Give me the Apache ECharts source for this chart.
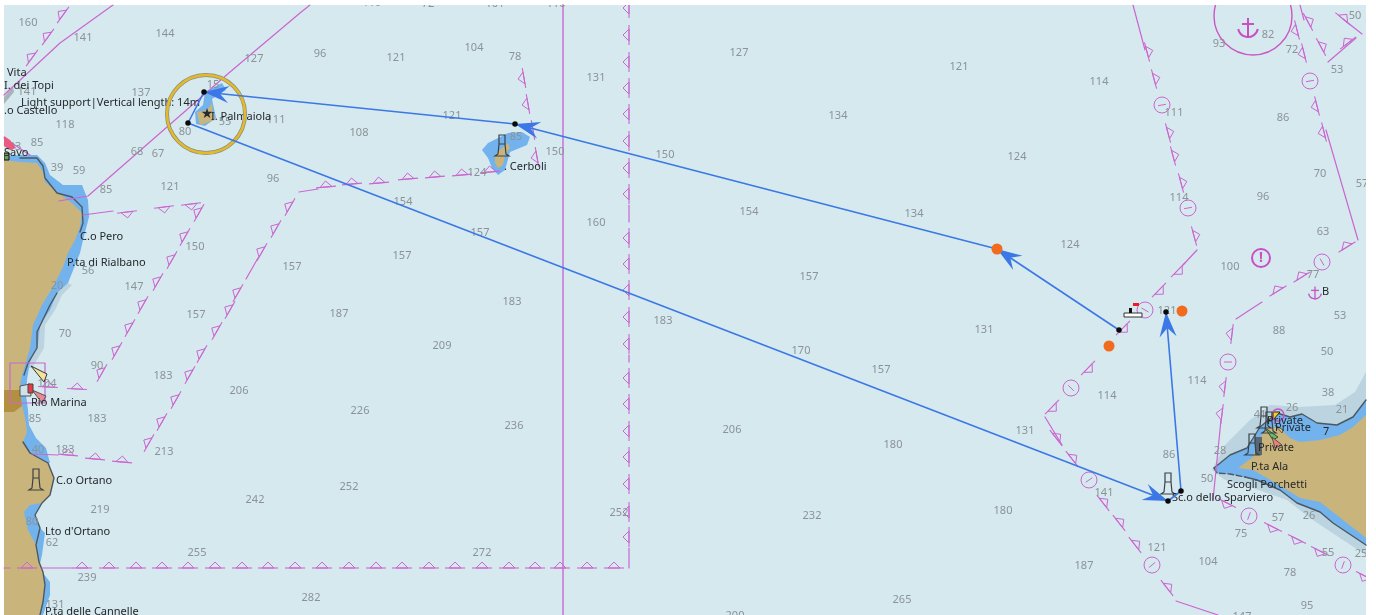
<!DOCTYPE html>
<html><head><meta charset="utf-8">
<style>html,body{margin:0;padding:0;background:#fff}#c{width:1376px;height:615px}</style>
<script src="https://cdn.jsdelivr.net/npm/echarts@6/dist/echarts.min.js"></script>
</head><body><div id="c"></div>
<script>
const depths=[[28,22,'160'],[83,37,'141'],[165,33,'144'],[254,58,'127'],[320,53,'96'],[396,57,'121'],[474,47,'104'],[515,56,'78'],[596,77,'131'],[739,52,'127'],[959,66,'121'],[1099,81,'114'],[1219,43,'93'],[1268,34,'82'],[1292,49,'72'],[1355,15,'50'],[1337,69,'53'],[141,92,'137'],[27,91,'141'],[65,124,'118'],[37,142,'85'],[15,146,'93'],[57,167,'39'],[79,170,'59'],[106,189,'85'],[137,151,'68'],[158,153,'67'],[170,186,'121'],[185,131,'80'],[213,84,'15'],[225,121,'55'],[276,119,'111'],[273,178,'96'],[359,132,'108'],[452,115,'121'],[516,136,'85'],[555,151,'150'],[665,154,'150'],[749,211,'154'],[838,115,'134'],[1017,156,'124'],[914,213,'134'],[1070,244,'124'],[1174,112,'111'],[1179,197,'114'],[1283,117,'86'],[1263,196,'96'],[1320,173,'70'],[1362,183,'57'],[1323,231,'63'],[1230,266,'100'],[1313,274,'77'],[1340,315,'53'],[1279,330,'88'],[1327,351,'50'],[1167,310,'121'],[809,276,'157'],[984,329,'131'],[663,320,'183'],[801,350,'170'],[881,369,'157'],[1107,395,'114'],[1197,380,'114'],[1328,392,'38'],[1342,409,'21'],[1292,407,'26'],[1260,414,'41'],[1220,450,'28'],[1207,478,'50'],[1169,454,'86'],[1025,430,'131'],[732,429,'206'],[893,444,'180'],[1104,492,'141'],[1003,510,'180'],[1278,517,'57'],[1309,515,'26'],[1241,533,'75'],[812,515,'232'],[1157,547,'121'],[1208,561,'104'],[1328,552,'55'],[1361,553,'25'],[1290,572,'78'],[1084,565,'187'],[1307,605,'95'],[902,599,'265'],[735,615,'200'],[1242,616,'147'],[596,222,'160'],[477,172,'124'],[403,201,'154'],[480,232,'157'],[292,266,'157'],[402,255,'157'],[195,246,'150'],[512,301,'183'],[134,286,'147'],[88,270,'56'],[57,285,'20'],[196,314,'157'],[339,313,'187'],[442,345,'209'],[65,333,'70'],[97,365,'90'],[163,375,'183'],[47,383,'104'],[239,390,'206'],[360,410,'226'],[35,418,'85'],[97,418,'183'],[514,425,'236'],[38,449,'40'],[65,449,'183'],[164,451,'213'],[349,486,'252'],[255,499,'242'],[100,509,'219'],[619,512,'252'],[32,521,'80'],[52,542,'62'],[197,552,'255'],[482,552,'272'],[87,577,'239'],[311,597,'282'],[55,604,'131'],[372,2,'119'],[428,3,'72'],[495,3,'101'],[556,3,'110']];
const places=[[7,72,'Vita'],[4,85,'I. dei Topi'],[21,102,'Light support|Vertical length: 14m'],[4,110,'.o Castello'],[4,152,'Savo'],[80,236,'C.o Pero'],[67,262,'P.ta di Rialbano'],[211,116,'I. Palmaiola'],[504,166,'. Cerboli'],[31,402,'Rio Marina'],[56,480,'C.o Ortano'],[45,531,"Lto d'Ortano"],[45,611,'P.ta delle Cannelle'],[1172,497,'Sc.o dello Sparviero'],[1227,484,'Scogli Porchetti'],[1251,466,'P.ta Ala'],[1258,447,'Private'],[1267,420,'Private'],[1275,427,'Private'],[1322,291,'B'],[1323,431,'7']];
const greyLeft=[[68,283],[72,285],[62,295],[55,310],[45,325],[44,348],[32,368],[4,368],[4,283]];
const blueLeft=[[4,156],[20,155],[37,155],[45,163],[50,175],[63,185],[82,185],[88,200],[89,217],[83,240],[80,253],[68,283],[57,293],[50,310],[40,325],[38,345],[30,362],[27,380],[26,395],[28,410],[29,425],[36,438],[46,448],[50,463],[4,463]];
const blueLeftLow=[[42,503],[35,515],[40,528],[45,533],[42,555],[39,568],[50,582],[50,595],[43,615],[4,615],[4,503]];
const landLeft=[[4,160],[20,162],[37,163],[43,172],[45,182],[57,192],[72,203],[82,213],[80,227],[75,240],[68,253],[63,267],[53,287],[45,300],[42,305],[33,325],[30,348],[26,362],[22,375],[20,385],[20,395],[22,405],[25,418],[27,432],[23,442],[30,453],[48,463],[54,478],[50,495],[42,503],[30,505],[24,512],[28,530],[36,545],[39,562],[43,572],[45,585],[43,602],[40,615],[4,615]];
const brownLeft=[[4,390],[20,390],[22,406],[14,412],[4,412]];
const harbourLeft=[[20,386],[30,384],[31,396],[20,396]];
const greyRight=[[1366,372],[1355,392],[1335,405],[1300,407],[1270,405],[1250,420],[1225,445],[1212,470],[1225,480],[1250,487],[1287,500],[1310,518],[1343,540],[1366,555]];
const blueRight=[[1366,400],[1353,417],[1337,425],[1317,423],[1302,414],[1290,417],[1277,413],[1260,427],[1247,448],[1230,455],[1214,468],[1217,473],[1230,474],[1257,480],[1280,490],[1297,503],[1320,512],[1333,523],[1366,545]];
const landRight=[[1366,415],[1353,427],[1340,435],[1320,440],[1300,442],[1290,438],[1285,433],[1277,428],[1267,427],[1257,443],[1253,457],[1238,468],[1253,470],[1267,478],[1287,490],[1300,498],[1320,502],[1343,520],[1366,538]];
const bluePalmaiola=[[205,92],[222,83],[226,90],[212,99],[216,118],[205,126],[196,124],[195,112],[203,105]];
const landPalmaiola=[[197,112],[207,110],[212,103],[213,115],[215,120],[200,125],[198,117]];
const blueCerboli=[[482,150],[488,143],[508,133],[522,132],[530,137],[527,145],[510,152],[505,170],[498,175],[492,168],[488,158]];
const landCerboli=[[495,155],[502,148],[508,143],[510,148],[505,155],[503,165],[498,168],[495,163]];
const greyTopi=[[4,97],[13,87],[14,92],[4,104]];
const redSavo=[[4,136],[10,140],[16,148],[10,150],[4,146]];
const greenSavo=[[4,153],[9,153],[9,160],[4,160]];
const yellowSector=[[31,366],[47,374],[44,382]];
const redSector=[[32,390],[46,396],[42,403]];
const redLight=[[28,384],[33,384],[33,393],[28,393]];
const greenSector=[[1265,428],[1278,437],[1273,440]];
const redSectorR=[[1272,437],[1282,445],[1275,448]];
const yellowSectorR=[[1275,425],[1283,430],[1282,433]];
const yellowFlag=[[1273,412],[1280,412],[1273,420]];
const darkBlock=[[1255,437],[1262,437],[1262,455],[1255,455]];
const boatHull=[[1124,313],[1142,313],[1142,317],[1124,317]];
const boatFlag=[[1133,303],[1139,303],[1139,306],[1133,306]];
const boatPost=[[1129,308],[1132,308],[1132,313],[1129,313]];
const coastLeftA=[[20,158],[37,158],[43,166],[45,178],[57,193],[72,197],[82,207],[83,223],[80,232]];
const coastLeftB=[[57,293],[50,305],[37,332],[37,348],[28,363],[24,375]];
const coastLeftC=[[23,442],[30,453],[48,463],[54,478],[50,495],[42,503],[35,515],[40,528],[36,545],[39,562],[43,572],[45,585],[43,602],[40,615]];
const coastRight=[[1366,400],[1353,417],[1337,425],[1317,423],[1302,414],[1290,417],[1277,413],[1260,427],[1247,448],[1230,455],[1214,468]];
const coastRightLow=[[1245,477],[1257,480],[1280,490],[1297,503],[1320,512],[1333,523],[1366,545]];
const coastRightDash=[[1214,468],[1217,473],[1230,474],[1245,477]];
const route=[[1119,330],[997,249],[515,124],[204,92],[188,123],[1168,501],[1181,491],[1166,312]];
const arrowLegs=[[0,1],[1,2],[2,3],[4,5],[6,7]];
const blackDots=[[1166,312],[1181,491],[1168,501],[188,123],[204,92],[515,124],[1119,330]];
const orangeDots=[[997,249],[1109,346],[1182,311]];
const goldRing=[[206,114,39]];
const anchorRing=[[1253,16,39]];
const alertRing=[[1261,258,9]];
const tickRings=[[1162,105,-10],[1310,81,-10],[1188,208,-10],[1322,262,60],[1228,362,0],[1145,310,30],[1071,388,45],[1089,480,-35],[1152,565,-40],[1249,516,-70],[1343,565,-70]];
const lighthouses=[[36,480],[502,146],[1168,484],[1264,418],[1269,423],[1252,445]];
const anchors=[[1248,28,1],[1315,293,0.65]];
const solidLines=[
 [[4,95],[60,43],[113,5]],
 [[59,201],[88,196],[230,72],[300,13],[310,5]],
 [[42,568],[72,568]],[[4,568],[10,568]],
 [[629,548],[629,568]],[[629,205],[629,222]],[[629,355],[629,362]],
 [[83,215],[113,211]],[[246,279],[258,258]],[[1133,5],[1145,50]],
 [[1197,250],[1183,265]],[[1358,240],[1326,130]],[[1221,420],[1213,500]],
 [[1176,601],[1218,615]],[[1236,319],[1262,302]],[[1045,417],[1062,445]],
 [[10,363],[45,363],[45,403],[10,403],[10,363]],
 [[1300,5],[1304,20]],[[4,138],[30,155]],
 [[32,454],[58,455]],[[299,192],[318,189]],[[1343,19],[1362,34]],[[1328,62],[1356,38]]
];
const verticalLine=[[563,5],[563,615]];
const marksV=[[629,8],[629,35],[629,62],[629,88],[629,114],[629,141],[629,168],[629,194],[629,238],[629,264],[629,290],[629,317],[629,344],[629,378],[629,404],[629,431],[629,457],[629,484],[629,512],[629,537]];
const marksBottom=[[27,568],[82,568],[109,568],[136,568],[162,568],[188,568],[215,568],[242,568],[268,568],[295,568],[322,568],[349,568],[376,568],[402,568],[429,568],[455,568],[482,568],[509,568],[535,568],[560,568],[587,568],[614,568]];
const marksB1=[[63,15],[48,37],[32,58]];
const marksB2=[[127,212],[164,207],[191,204]];
const marksB3=[[199,213],[185,237],[172,260],[158,282],[143,305],[130,328],[117,351],[102,373]];
const marksB4=[[77,389],[48,387]];
const marksB5=[[68,455],[95,459],[122,462]];
const marksB6=[[149,443],[162,422],[176,400],[190,375],[202,354],[217,331],[230,310],[238,293],[262,252],[276,229],[290,207]];
const marksB7=[[326,187],[352,184],[379,183],[408,179],[435,177],[462,175],[490,172]];
const marksB8=[[524,78],[528,104],[533,130],[537,157]];
const marksB9=[[1147,52],[1154,79],[1168,133],[1173,156],[1181,183],[1194,236]];
const marksB10=[[1178,270],[1159,290],[1123,328],[1088,368],[1052,407]];
const marksB11=[[1056,438],[1072,459],[1103,503],[1119,523],[1135,545],[1167,588]];
const marksB12=[[1232,334],[1225,387],[1222,414]];
const marksB13=[[1278,291],[1302,277],[1347,247]];
const marksB14=[[1324,132],[1317,106],[1304,53],[1297,30]];
const marksB15=[[1308,22],[1321,47]];
const marksB16=[[1348,43]];
const marksB17=[[1343,19]];
const marksB18=[[1227,503],[1273,527],[1297,539],[1320,551],[1365,576]];
const markTable=[[marksV,90,1],[marksBottom,0,-1],[marksB1,126,1],[marksB2,-7,1],[marksB3,120,1],[marksB4,3,-1],[marksB5,5,-1],[marksB6,120,1],[marksB7,-5,-1],[marksB8,80,1],[marksB9,75,-1],[marksB10,134,-1],[marksB11,52,-1],[marksB12,97,1],[marksB13,-32,-1],[marksB14,76,1],[marksB15,62,-1],[marksB16,-38,-1],[marksB17,40,-1],[marksB18,27,1]];

const MAG='#cc66cf', FONT='"Noto Sans",sans-serif', INK='#24282b';
const series=[];
function custom(z,data,render){series.push({type:'custom',coordinateSystem:'cartesian2d',clip:true,silent:true,z,animation:false,data:data.map((d,i)=>[i]),encode:{x:[],y:[]},renderItem:(p,api)=>render(data[p.dataIndex],api)});}
function poly(pts,fill,z,stroke){custom(z,[pts],(d,api)=>({type:'polygon',shape:{points:d.map(q=>api.coord(q))},style:{fill,stroke:stroke||null,lineWidth:stroke?1:0}}));}
function line(pts,color,width,z,dash){series.push({type:'line',data:pts,symbol:'none',silent:true,z,clip:true,animation:false,lineStyle:{color,width,type:dash||'solid',cap:'round'}});}
function dots(pts,color,size,z){series.push({type:'scatter',data:pts,symbolSize:size,silent:true,z,animation:false,itemStyle:{color,opacity:1}});}
function rings(data,stroke,w,z){custom(z,data,(d,api)=>{const c=api.coord([d[0],d[1]]);return{type:'circle',shape:{cx:c[0],cy:c[1],r:d[2]},style:{fill:'none',stroke,lineWidth:w}};});}

poly(greyLeft,'#bcd3e0',2);poly(greyRight,'#bcd3e0',2);
poly(blueLeft,'#72b3ee',3);poly(blueLeftLow,'#72b3ee',3);poly(blueRight,'#72b3ee',3);poly(bluePalmaiola,'#72b3ee',3);poly(blueCerboli,'#72b3ee',3);
poly(landLeft,'#c9b47b',4);poly(landRight,'#c9b47b',4);poly(landPalmaiola,'#c9b47b',4);poly(landCerboli,'#c9b47b',4);
poly(brownLeft,'#b3903f',5);poly(harbourLeft,'#cfe2ea',5,'#555');poly(greyTopi,'#a9b4ba',5);
[coastLeftA,coastLeftB,coastLeftC,coastRight,coastRightLow].forEach(c=>line(c,'#4c5860',1.4,6));
line(coastRightDash,'#4c5860',1.4,6,'dashed');

line(verticalLine,'#cc8fdc',2,7);
solidLines.forEach(l=>line(l,MAG,1.2,7));
markTable.forEach(t=>{
  const a=t[1]*Math.PI/180,dx=Math.cos(a),dy=Math.sin(a),nx=-dy*t[2],ny=dx*t[2];
  custom(8,t[0],(d,api)=>{const c=api.coord(d);
    return{type:'group',children:[
      {type:'line',shape:{x1:c[0]-dx*10,y1:c[1]-dy*10,x2:c[0]+dx*10,y2:c[1]+dy*10},style:{stroke:MAG,lineWidth:1.1}},
      {type:'polygon',shape:{points:[[c[0]-dx*6,c[1]-dy*6],[c[0]+dx*6,c[1]+dy*6],[c[0]+nx*6,c[1]+ny*6]]},style:{fill:'none',stroke:MAG,lineWidth:1}}]};});
});
custom(8,tickRings,(d,api)=>{const c=api.coord([d[0],d[1]]),a=d[2]*Math.PI/180,dx=Math.cos(a)*4,dy=Math.sin(a)*4;
  return{type:'group',children:[{type:'circle',shape:{cx:c[0],cy:c[1],r:8},style:{fill:'none',stroke:MAG,lineWidth:1}},
    {type:'line',shape:{x1:c[0]-dx,y1:c[1]-dy,x2:c[0]+dx,y2:c[1]+dy},style:{stroke:MAG,lineWidth:1}}]};});
rings(anchorRing,'#cc55c4',1.4,8);
rings(alertRing,'#c94fc4',2,8);
custom(8,alertRing,(d,api)=>{const c=api.coord([d[0],d[1]]);return{type:'text',style:{text:'!',x:c[0],y:c[1],align:'center',verticalAlign:'middle',fill:'#c94fc4',font:'bold 14px '+FONT}};});
custom(8,anchors,(d,api)=>{const c=api.coord([d[0],d[1]]),s=d[2];
  const st={fill:'none',stroke:'#c94fc4',lineWidth:2*Math.max(s,.6)};
  return{type:'group',children:[
    {type:'line',shape:{x1:c[0],y1:c[1]-10*s,x2:c[0],y2:c[1]+10*s},style:st},
    {type:'line',shape:{x1:c[0]-6*s,y1:c[1]-4*s,x2:c[0]+6*s,y2:c[1]-4*s},style:st},
    {type:'arc',shape:{cx:c[0],cy:c[1]-1*s,r:10*s,startAngle:0.2,endAngle:Math.PI-0.2},style:st}]};});

custom(10,depths,(d,api)=>{const c=api.coord([d[0],d[1]+1]);return{type:'text',style:{text:d[2],x:c[0],y:c[1],align:'center',verticalAlign:'middle',fill:'#8b9397',font:'11px '+FONT}};});

poly(yellowSector,'#f3e39a',11,'#333');poly(redSector,'#ea8b8f',11,'#555');poly(redLight,'#e83a4a',11,'#444');
poly(redSavo,'#e85a80',11);poly(greenSavo,'#6f9a5a',11,'#111');
poly(greenSector,'#5fc05f',11,'#444');poly(redSectorR,'#ea8078',11,'#555');poly(yellowSectorR,'#e8cf62',11,'#555');poly(yellowFlag,'#f2d21f',11,'#222');
poly(darkBlock,'#5b6770',11);
rings([[1278,415,6]],'#c94fc4',1.4,11);
poly(boatHull,'#ffffff',11,'#333');poly(boatFlag,'#ee1c25',11);poly(boatPost,'#111',11);
custom(12,lighthouses,(d,api)=>{const c=api.coord(d),x=c[0],y=c[1];
  return{type:'polygon',shape:{points:[[x-3,y-11],[x+3,y-11],[x+3,y-2],[x-3,y-2],[x+3,y-2],[x+4,y+8],[x+7,y+10],[x-7,y+10],[x-4,y+8],[x-3,y-2]]},style:{fill:'none',stroke:'#3b4246',lineWidth:1.2}};});
custom(12,[[207,114]],(d,api)=>{const c=api.coord(d);return{type:'text',style:{text:'★',x:c[0],y:c[1],align:'center',verticalAlign:'middle',fill:'#2b2b2b',font:'14px "DejaVu Sans"'}};});

custom(13,places,(d,api)=>{const c=api.coord([d[0],d[1]+1]);return{type:'text',style:{text:d[2],x:c[0],y:c[1],align:'left',verticalAlign:'middle',fill:INK,font:'11px '+FONT}};});

rings(goldRing,'#8d8d80',4,14);rings(goldRing,'#e3bb2a',2.5,15);

line(route,'#3b78e6',1.6,16);
custom(17,arrowLegs,(d,api)=>{const a=api.coord(route[d[0]]),t=api.coord(route[d[1]]);
  const L=Math.hypot(a[0]-t[0],a[1]-t[1]),ux=(a[0]-t[0])/L,uy=(a[1]-t[1])/L,nx=-uy,ny=ux;
  return{type:'polygon',shape:{points:[t,[t[0]+ux*25+nx*8.5,t[1]+uy*25+ny*8.5],[t[0]+ux*16,t[1]+uy*16],[t[0]+ux*25-nx*8.5,t[1]+uy*25-ny*8.5]]},style:{fill:'#3b78e6'}};});
dots(orangeDots,'#f26a1b',11,18);
dots(blackDots,'#0a0a0a',5.5,18);

const chart=echarts.init(document.getElementById('c'),null,{renderer:'canvas',width:1376,height:615});
chart.setOption({animation:false,backgroundColor:'#ffffff',
  grid:{left:4,top:5,right:10,bottom:0,show:true,backgroundColor:'#d5e9ef',borderWidth:0},
  xAxis:{type:'value',min:4,max:1366,show:false},
  yAxis:{type:'value',min:5,max:615,inverse:true,show:false},
  tooltip:{show:false},series});
</script></body></html>
